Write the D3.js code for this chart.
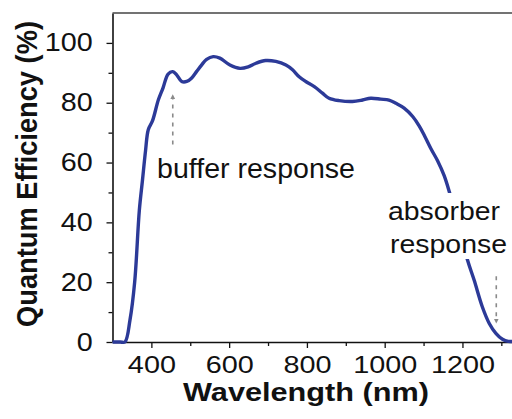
<!DOCTYPE html>
<html>
<head>
<meta charset="utf-8">
<script src="https://cdn.jsdelivr.net/npm/d3@7/dist/d3.min.js"></script>
<style>
  body { margin: 0; background: #fff; }
  text { font-family: "Liberation Sans", Arial, Helvetica, sans-serif; }
</style>
</head>
<body>
<script>
// Quantum efficiency curve
const wavelength = [300, 320, 332, 345, 357, 369, 377, 385, 392, 403, 418, 430, 443, 455, 465, 478,
  491, 503, 516, 529, 542, 559, 576, 602, 628, 649, 669, 694, 720, 746, 763, 780, 797, 819,
  840, 857, 883, 917, 943, 964, 990, 1011, 1029, 1050, 1072, 1089, 1103, 1119, 1136, 1153,
  1166, 1213, 1230, 1251, 1269, 1286, 1303, 1318, 1330];
const efficiency = [0, 0, 0, 7.4, 20, 44, 54, 64, 71, 74, 81, 85, 89.6, 90.4, 89.3, 87.1,
  87.1, 88.2, 90.4, 92.6, 94.5, 95.4, 94.9, 92.6, 91.5, 92, 93.2, 94.1, 93.8, 92.6, 91, 88.7,
  87.1, 85.4, 83.2, 81.5, 80.7, 80.4, 80.9, 81.5, 81.2, 80.9, 79.8, 78.2, 75.4, 72.2, 68.8,
  64.6, 60.6, 55.6, 50.3, 27.4, 20.7, 11.8, 6.2, 2.9, 0.9, 0.2, 0.2];

const xTicks = [400, 600, 800, 1000, 1200];
const xMinor = [500, 700, 900, 1100, 1300];
const yTicks = [0, 20, 40, 60, 80, 100];
const yMinor = [10, 30, 50, 70, 90];

// annotation arrows: wavelength, tail value, head value
const arrowAt = [455, 1287];
const arrowFrom = [66, 22];
const arrowTo = [82, 7];

const W = 512, H = 419;
const svg = d3.select("body").append("svg")
  .attr("width", W)
  .attr("height", H);

const x = d3.scaleLinear().domain([300, 1330]).range([112.5, 513]);
const y = d3.scaleLinear().domain([0, 110]).range([342, 13]);

const ink = "#111";

//Minor ticks
svg.append("g")
  .attr("transform", "translate(0,342)")
  .call(d3.axisBottom(x).tickValues(xMinor).tickSize(4).tickFormat(""))
  .call(g => g.select(".domain").remove());
svg.append("g")
  .attr("transform", "translate(112.5,0)")
  .call(d3.axisLeft(y).tickValues(yMinor).tickSize(4).tickFormat(""))
  .call(g => g.select(".domain").remove());

//x axis
const gx = svg.append("g")
  .attr("transform", "translate(0,342)")
  .call(d3.axisBottom(x).tickValues(xTicks).tickFormat(d3.format("d"))
    .tickSizeInner(6).tickSizeOuter(0).tickPadding(8));
gx.selectAll("text")
  .attr("font-size", "24px")
  .attr("fill", ink)
  .attr("transform", "scale(1.2,1)");

//y axis
const gy = svg.append("g")
  .attr("transform", "translate(112.5,0)")
  .call(d3.axisLeft(y).tickValues(yTicks).tickFormat(d3.format("d"))
    .tickSizeInner(6).tickSizeOuter(0).tickPadding(6));
gy.selectAll("text")
  .attr("font-size", "25px")
  .attr("fill", ink)
  .attr("text-anchor", "end")
  .attr("transform", "translate(-6,0) scale(1.15,1)");

svg.selectAll(".domain").attr("stroke", ink).attr("stroke-width", 1.6);
svg.selectAll(".tick line").attr("stroke", ink).attr("stroke-width", 1.3);

//top frame line
svg.append("line")
  .attr("x1", x(300)).attr("x2", W)
  .attr("y1", y(110)).attr("y2", y(110))
  .attr("stroke", "#444")
  .attr("stroke-width", 1.6);

//axis titles
svg.append("text")
  .attr("x", 306).attr("y", 401)
  .attr("text-anchor", "middle")
  .attr("font-size", "25px")
  .attr("font-weight", "bold")
  .attr("fill", ink)
  .attr("textLength", 246)
  .attr("lengthAdjust", "spacingAndGlyphs")
  .text("Wavelength (nm)");

svg.append("text")
  .attr("transform", "translate(37,174) rotate(-90) scale(1,1.15)")
  .attr("text-anchor", "middle")
  .attr("font-size", "26px")
  .attr("font-weight", "bold")
  .attr("fill", ink)
  .attr("textLength", 306)
  .attr("lengthAdjust", "spacingAndGlyphs")
  .text("Quantum Efficiency (%)");

//curve
const pts = wavelength.map((w, i) => [w, efficiency[i]]);
const line = d3.line()
  .x(d => x(d[0]))
  .y(d => y(d[1]))
  .curve(d3.curveCatmullRom.alpha(0.5));

svg.append("path")
  .datum(pts)
  .attr("fill", "none")
  .attr("stroke", "#2c3a98")
  .attr("stroke-width", 3.4)
  .attr("stroke-linejoin", "round")
  .attr("d", line);

//buffer label
svg.append("text")
  .attr("x", 157).attr("y", 178)
  .attr("font-size", "27px")
  .attr("fill", ink)
  .attr("textLength", 198)
  .attr("lengthAdjust", "spacingAndGlyphs")
  .text("buffer response");

//absorber label, on a white box that hides the curve behind it
const ab = svg.append("g");
ab.append("rect")
  .attr("x", 385).attr("y", 193)
  .attr("width", 127).attr("height", 66)
  .attr("fill", "#fff");
ab.append("text")
  .attr("x", 388).attr("y", 220)
  .attr("font-size", "25px")
  .attr("fill", ink)
  .attr("textLength", 112)
  .attr("lengthAdjust", "spacingAndGlyphs")
  .text("absorber");
ab.append("text")
  .attr("x", 390).attr("y", 253)
  .attr("font-size", "25px")
  .attr("fill", ink)
  .attr("textLength", 117)
  .attr("lengthAdjust", "spacingAndGlyphs")
  .text("response");

//dashed arrows
const defs = svg.append("defs");
defs.append("marker")
  .attr("id", "head")
  .attr("viewBox", "0 0 10 10")
  .attr("refX", 5).attr("refY", 5)
  .attr("markerWidth", 5).attr("markerHeight", 5)
  .attr("orient", "auto")
  .attr("markerUnits", "userSpaceOnUse")
  .append("path")
  .attr("d", "M0,0 L10,5 L0,10 Z")
  .attr("fill", "#8a8a8a");

svg.append("g")
  .selectAll("line")
  .data(arrowAt)
  .join("line")
  .attr("x1", d => x(d)).attr("x2", d => x(d))
  .attr("y1", (d, i) => y(arrowFrom[i]))
  .attr("y2", (d, i) => y(arrowTo[i]))
  .attr("stroke", "#8a8a8a")
  .attr("stroke-width", 1.6)
  .attr("stroke-dasharray", "4,5")
  .attr("marker-end", "url(#head)");
</script>
</body>
</html>
